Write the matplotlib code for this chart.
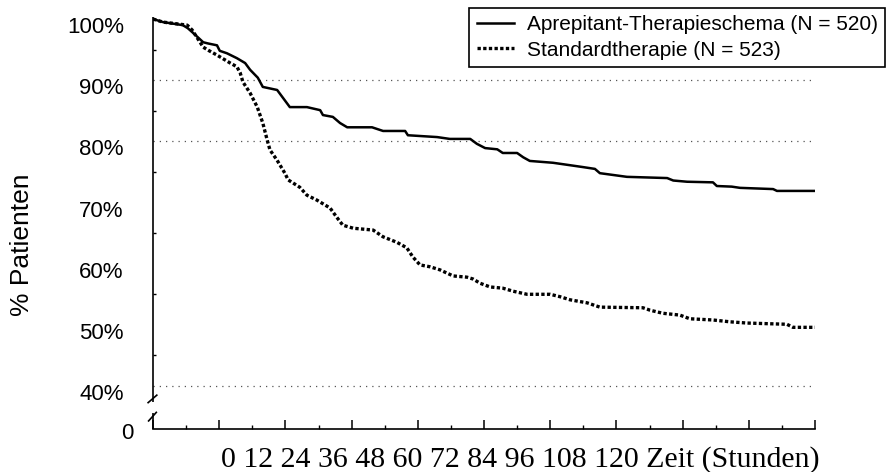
import matplotlib
matplotlib.use('Agg')
import matplotlib.pyplot as plt
import matplotlib.transforms as mtransforms

plt.rcParams['font.family'] = 'Liberation Sans'

# Kaplan-Meier curves (hours, % patients)
hours_apr = [0, 1.8, 5.4, 6.3, 7.3, 9.1, 10.0, 11.6, 12.1, 13.4, 15.2, 16.7, 17.6, 19.0, 19.9,
             22.5, 24.8, 27.9, 30.3, 30.8, 32.6, 33.9, 35.2, 39.7, 41.7, 45.7, 46.2, 51.5, 53.8,
             57.5, 58.7, 60.2, 62.4, 63.4, 66.0, 67.1, 68.3, 72.5, 75.6, 77.9, 80.1, 81.0,
             85.9, 93.2, 94.3, 96.8, 101.5, 102.2, 104.9, 106.4, 112.4, 113.1, 120]
surv_apr = [100, 99.5, 99.0, 98.5, 97.7, 96.2, 96.0, 95.7, 94.8, 94.4, 93.6, 92.8, 91.7, 90.4, 88.9,
            88.4, 85.6, 85.6, 85.1, 84.3, 84.0, 83.0, 82.3, 82.3, 81.7, 81.7, 81.0, 80.7, 80.4,
            80.4, 79.6, 78.9, 78.7, 78.1, 78.1, 77.4, 76.8, 76.5, 76.1, 75.8, 75.5, 74.8,
            74.2, 74.0, 73.6, 73.4, 73.3, 72.7, 72.6, 72.4, 72.2, 71.9, 71.9]

hours_std = [0, 1.8, 6.2, 7.1, 9.1, 10.0, 11.6, 14.0, 15.2, 15.8, 16.3, 17.6, 18.9, 19.9, 20.7,
             21.2, 22.5, 23.9, 24.5, 26.6, 27.9, 29.7, 32.1, 33.3, 34.4, 36.3, 39.9, 41.7,
             44.2, 46.0, 47.1, 48.4, 50.2, 52.0, 54.4, 56.9, 58.0, 59.3, 61.1, 63.4, 65.3,
             67.8, 72.0, 73.8, 75.6, 78.7, 81.0, 88.8, 90.1, 92.4, 95.5, 97.3, 101.5, 104.6,
             107.7, 114.9, 116.0, 120]
surv_std = [100, 99.5, 99.0, 98.2, 95.4, 94.9, 94.1, 92.8, 92.2, 91.2, 89.7, 87.9, 85.6, 83.0, 80.2,
            78.6, 76.9, 74.8, 73.7, 72.5, 71.2, 70.4, 69.1, 67.6, 66.3, 65.8, 65.5, 64.4,
            63.5, 62.6, 61.1, 59.8, 59.5, 59.0, 58.0, 57.8, 57.5, 56.8, 56.2, 56.0, 55.5,
            55.0, 55.0, 54.6, 54.1, 53.6, 52.9, 52.8, 52.4, 51.9, 51.6, 51.0, 50.8, 50.5,
            50.3, 50.1, 49.6, 49.6]

label_apr = 'Aprepitant-Therapieschema (N = 520)'
label_std = 'Standardtherapie (N = 523)'
grid_levels = [40, 80, 90]
ytick_vals = [40, 50, 60, 70, 80, 90, 100]
ytick_labels = ['40%', '50%', '60%', '70%', '80%', '90%', '100%']
ytick_minor = [45, 55, 65, 75, 85, 95]
xtick_major = [0, 12, 24, 36, 48, 60, 72, 84, 96, 108, 120]
xtick_minor = [6, 18, 30, 42, 54, 66, 78, 90, 102, 114]
xlabel_text = '0 12 24 36 48 60 72 84 96 108 120 Zeit (Stunden)'

y_bottom = 32.98

fig = plt.figure(figsize=(8.86, 4.72), dpi=100)
ax = fig.add_axes([0.1727, 0.0911, 0.7472, 0.8725])
ax.set_xlim(0, 120)
ax.set_ylim(y_bottom, 100.3)

ax.hlines(grid_levels, 0, 120, colors='#555555', linestyles=(0, (1, 4)), lw=0.9, zorder=1)

ax.plot(hours_apr, surv_apr, color='black', lw=1.8, label=label_apr, zorder=3)
ax.plot(hours_std, surv_std, color='black', lw=2.4, linestyle=(0, (1.0, 0.7)), label=label_std, zorder=3)

ax.spines['top'].set_visible(False)
ax.spines['right'].set_visible(False)
ax.spines['left'].set_visible(False)
ax.spines['bottom'].set_linewidth(1.2)

# broken y axis drawn by hand
kw = dict(color='black', lw=1.2, clip_on=False, solid_capstyle='butt')
ax.plot([0, 0], [100.3, 37.4], **kw)
ax.plot([-1.0, 0.8], [37.2, 38.6], **kw)
ax.plot([-0.9, 0.7], [34.2, 35.8], **kw)
ax.plot([0, 0], [35.6, y_bottom], **kw)

ax.set_xticks(xtick_major)
ax.set_xticks(xtick_minor, minor=True)
ax.tick_params(axis='x', which='major', direction='in', length=6.5, width=1.1, labelbottom=False)
ax.tick_params(axis='x', which='minor', direction='in', length=3, width=1.0)

ax.set_yticks(ytick_vals, ytick_labels)
ax.set_yticks(ytick_minor, minor=True)
ax.tick_params(axis='y', which='major', length=0, pad=21, labelsize=16)
ax.tick_params(axis='y', which='minor', direction='in', length=2.5, width=1.0)
offset = mtransforms.ScaledTranslation(0, -0.06, fig.dpi_scale_trans)
for lbl in ax.get_yticklabels():
    lbl.set_transform(lbl.get_transform() + offset)

ax.text(-20 / 5.517, y_bottom, '0', ha='right', va='center', fontsize=16,
        transform=ax.transData + mtransforms.ScaledTranslation(0, -0.045, fig.dpi_scale_trans))

fig.text(22 / 886, 1 - 245 / 472, '% Patienten', rotation=90, ha='center', va='center', fontsize=19)
fig.text(820 / 886, 1 - 467 / 472, xlabel_text, ha='right', va='baseline',
         fontsize=21.5, family='Liberation Serif')

leg = ax.legend(loc='upper right', bbox_to_anchor=(885 / 886, 1 - 8 / 472), bbox_transform=fig.transFigure,
                frameon=True, fancybox=False, edgecolor='black', framealpha=1, fontsize=15,
                handlelength=1.8, handletextpad=0.6, borderpad=0.35, labelspacing=0.3, borderaxespad=0)
leg.get_frame().set_linewidth(1.2)

fig.savefig('out.png', dpi=100, facecolor='white')
